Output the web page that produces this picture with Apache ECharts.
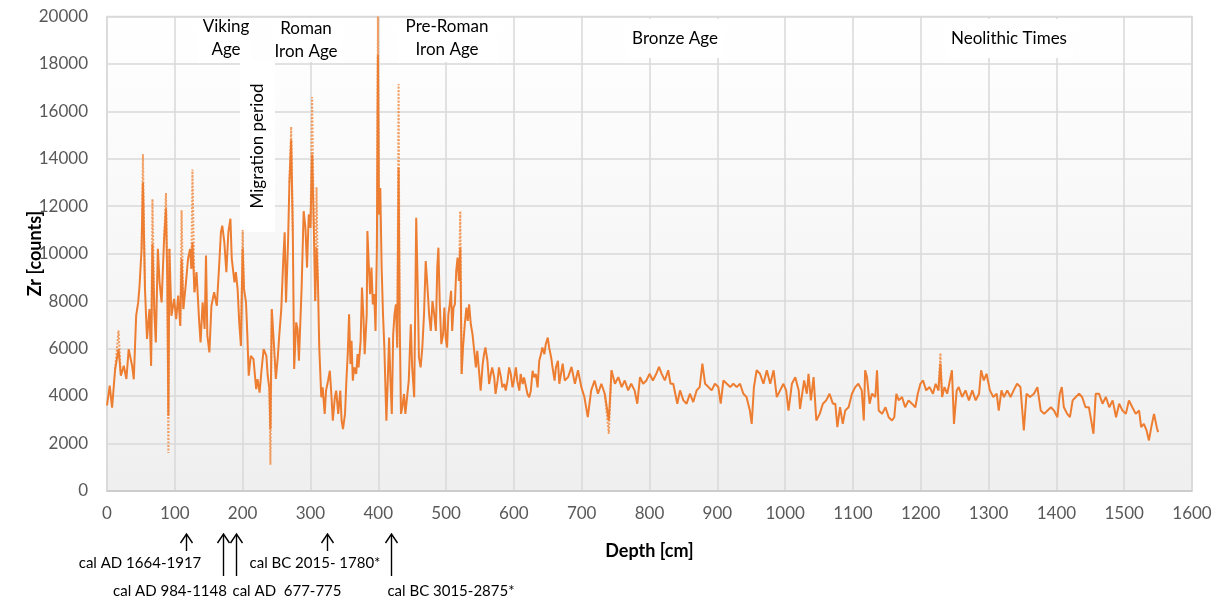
<!DOCTYPE html>
<html><head><meta charset="utf-8">
<script src="https://cdn.jsdelivr.net/npm/echarts@6/dist/echarts.min.js"></script>
<style>html,body{margin:0;padding:0;background:#fff}#c{width:1223px;height:606px}</style>
</head><body><div id="c"></div>
<script>
// Zr counts along the core, [depth cm, counts]
const zrTop = [[0,3600],[4,4430],[7.5,3500],[12,5130],[17,5970],[20.5,4850],[24.7,5270],[28.6,4710],[32,5970],[37,5270],[39.5,4700],[43,7380],[46,7940],[48,8650],[51,10200],[53,13000],[56,8510],[59,6400],[62.6,7660],[65,5270],[67,10400],[70,7380],[72,6250],[75,10200],[77.5,8790],[80.5,7940],[84,10480],[87,11900],[89,8790],[90.5,3160],[92,10200],[95,7380],[99,8090],[102,7240],[105,8230],[108,6960],[110,9780],[112.6,7660],[116,8650],[119.5,9780],[122.5,10200],[124.4,9360],[126,10480],[129,8370],[132,9220],[136,7100],[138,6250],[141,7940],[144,6820],[146,9920],[148,6540],[151,5830],[154,7800],[158,8370],[162,7800],[165.4,9500],[168,10900],[170,11180],[173,10480],[176,9220],[179,10900],[182,11470],[184,9780],[188,8790],[190,9220],[192.6,8510],[195,7100],[197.5,6110],[200,10200],[202,8510],[205,7940],[207,6540],[209,4850],[212,5690],[216,5550],[220,4280],[222,4710],[225,4140],[228,5130],[231,5970],[235,5690],[237,4850],[239.5,4280],[241,2600],[243,7660],[246,6250],[249,4710],[252,5690],[254,6540],[257,7660],[260,9780],[262,10900],[264,7940],[267,10480],[269,13000],[271.6,14800],[274,10900],[276,5130],[279,7100],[281,6820]];
const zrIron = [[283,5480],[287,8570],[290,11790],[292.6,11090],[295,9410],[297.5,11650],[300,11090],[302.5,14180],[305,11090],[307,8000],[309,10250],[311,8850],[313,6040],[316,3940],[318,4360],[321,3240],[323,4220],[326,4640],[328.6,5060],[330.5,4220],[333,2950],[336,3940],[338,4220],[341,3240],[344,4220],[346,2950],[348,2600],[351,3240],[353,4640],[355,5760],[357,7440],[359,5340],[360.6,6320],[362.5,4640],[364.5,5200],[367.5,4920],[369.5,5760],[371,5200],[374,6320],[376,8570],[378,7440],[380,5760],[383,7440],[384,10950],[386,9550],[388,8290],[390,9410],[392,7860],[394,8290],[396,6740],[398,10250],[399.5,18390],[401,11650],[403,12770],[405,9410],[407,7440],[409,6040],[411,3940],[412,2950],[414,4640],[416,6460],[418,4640],[420,3240],[422,6600],[424,7440],[426,7860],[428,6040],[430,13620],[431.5,7440],[433.5,3240],[435.5,3520],[438,4080],[440,3240],[443,4080],[445,4640],[448,7020],[450,5200],[453,3940],[455,8850],[456,11510],[458,8850],[460,5620],[462.5,5200],[465,6040],[467.5,7440],[470,9690],[472,8850],[475,7440],[477.5,6740],[480,8000],[482.5,7440],[485,6740],[487,9410],[488.7,10250],[490.6,8000],[493,6180],[495.6,6600],[497.5,7720],[499.5,6460],[501.5,6040],[503.4,7440],[505.4,7860],[507.4,8430],[509,6740],[511,7720],[513,7860],[515,9270],[517,9830],[519,8850],[521,10250],[523,4920],[525,6040],[527.6,7020],[530,7720],[532,7160],[534,7860],[536.5,7020],[539,6600],[541,6040],[544,5200],[546,5900],[549,4920],[551,4220],[554,5340],[556,5760],[558,6040],[561,5480],[563.5,4500],[566,4920],[568,5200],[571,4780],[573,4080],[576,4640],[578,5200],[581,4780],[583,4360],[586,4500],[588,4220],[590.6,4640],[593,5200],[595.5,4920],[598,4360],[600,4640],[603,5200],[605,4640],[608,4220],[610,4920],[613,4500],[615,4780],[618,4360],[620,4080],[622.6,3940],[625,4220],[627.6,5060],[630,4780],[632.5,4920],[635,4360],[637.4,5480],[640,5760],[642,6040],[645,5760],[647,6180],[650,6460],[652,6040],[655,5620],[657,5200],[660,4640],[662,5200],[665,5480]];
const zrBronze = [[667,4510],[672,5360],[675,4650],[680,4790],[685,5220],[690,4510],[694.6,5080],[699.5,4370],[704,3950],[709,3100],[714,4230],[719,4650],[724,4090],[729,4510],[734,4090],[740,2960],[744,5080],[749,4510],[754,4790],[759,4370],[763.5,4650],[768.5,4230],[773,4510],[778,4230],[782,3670],[786,4790],[790.6,4510],[795.5,4650],[800,4930],[805,4650],[810,4930],[814,5220],[818,4930],[822.6,4650],[827.6,5080],[831,4510],[835,4510],[841,3670],[845,4230],[850,3810],[854.7,3670],[859.6,4090],[864.5,3740],[869.5,4230],[874,4370],[878,5360],[882,4510],[887,4370],[891.6,4230],[896.5,4510],[901.5,4370],[905,3670],[909,4650],[914,4510],[919,4370],[923.6,4510],[928.6,4370],[933.5,4510],[938.4,4090],[943,3950],[948,3380],[950.7,2820],[954,4370],[958,5080],[963,4930],[968,4510],[973,5080],[978,4510],[983,5080],[987.7,3950],[992.6,4230],[997.5,4510],[1001.5,4230],[1005,3380],[1010,4510],[1015,4790],[1020,4230]];
const zrNeolithic = [[1022,3450],[1028,4650],[1032,4090],[1034.5,4930],[1038,3810],[1042,4790],[1046,2960],[1051,3240],[1055.7,3670],[1060.6,3810],[1065.5,4090],[1070.4,3670],[1074,3670],[1077,2680],[1081,3520],[1085,2820],[1088.6,3380],[1093.6,3520],[1098.5,4090],[1103.4,4370],[1108,4510],[1113,4230],[1116,2960],[1118,5080],[1120.7,4790],[1124.6,3670],[1128,4090],[1133,3950],[1135.5,5080],[1138,3380],[1143,3240],[1148,3520],[1152.7,3100],[1157.6,2960],[1161,3100],[1164,4090],[1167.5,3810],[1172.4,3950],[1177,3520],[1182,3810],[1187,3670],[1192,3520],[1195.6,4090],[1199.5,4510],[1203.4,4650],[1208,4230],[1213,4370],[1218,4090],[1222,4510],[1226,4230],[1229,5360],[1231.5,3950],[1235,4370],[1239,4090],[1243,4650],[1246,5080],[1249,2820],[1253,4230],[1256,4370],[1261,3950],[1266,4230],[1271,3810],[1276,4230],[1281,3810],[1286,4090],[1289,5080],[1293,4650],[1297,4930],[1302,4230],[1307,3950],[1312,4090],[1315,3380],[1319,4230],[1322.7,3950],[1327.6,4230],[1332.5,3950],[1337,4230],[1342,4510],[1347,4370],[1352,2540],[1356,4090],[1361,3950],[1367,4090],[1372,4370],[1377,3380],[1382,3240],[1387,3380],[1392,3520],[1396.5,3380],[1401.5,3100],[1405,4090],[1408,4370],[1411,3520],[1416,3240],[1420,3100],[1424,3810],[1428.6,3950],[1433.5,4090],[1438,3950],[1443,3520],[1448,3520],[1454.7,2400],[1458,4090],[1463,4090],[1468,3670],[1473,3950],[1478,3520],[1483,3810],[1488,3100],[1492.6,3670],[1497.5,3380],[1502.5,3240],[1507,3810],[1512,3520],[1517,3240],[1522,3380],[1525,2680],[1529,2820],[1533,2540],[1536.5,2120],[1540,2680],[1544,3240],[1548,2680],[1550,2470]];
// raw-data excursions (dotted), '-' separates the individual peaks
const zrRawPeaks = [[12,5130],[17,6750],[20.5,4850],[22,'-'],[51,10200],[53,14200],[56,8510],[60,'-'],[65,5270],[67,12300],[70,7380],[72,'-'],[84,10480],[87,12550],[89,8790],[90.5,1590],[92,10200],[93,'-'],[108,6960],[110,11830],[112.6,7660],[113,'-'],[124.4,9360],[126,13550],[129,8370],[130,'-'],[197.5,6110],[200,11000],[202,8510],[203,'-'],[239.5,4280],[241,1100],[243,7660],[244,'-'],[269,13000],[271.6,15350],[274,10900],[275,'-'],[300,11090],[302.5,16600],[305,11090],[306,'-'],[307,8000],[309,12800],[311,8850],[312,'-'],[398,10250],[399.5,20000],[401,11650],[402,'-'],[428,6040],[430,17150],[431.5,7440],[432,'-'],[519,8850],[521,11790],[523,4920],[524,'-'],[734,4090],[740,2400],[744,5080],[745,'-'],[1226,4230],[1229,5800],[1231.5,3950]];
// radiocarbon dates: depth of arrow, long shaft?, label
const dateDepthCm = [117, 171, 190, 324, 419];
const dateLongArrow = [false, true, true, false, true];
const dateLabels = ['cal AD 1664-1917', 'cal AD 984-1148', 'cal AD  677-775', 'cal BC 2015- 1780*', 'cal BC 3015-2875*'];
const periodNames = ['Viking\nAge', 'Roman\nIron Age', 'Migration period', 'Pre-Roman\nIron Age', 'Bronze Age', 'Neolithic Times'];

const FONT = 'Lato, "Noto Sans", sans-serif';
const chart = echarts.init(document.getElementById('c'), null, {renderer: 'canvas'});
const profile = zrTop.concat(zrIron, zrBronze, zrNeolithic);

chart.setOption({
  animation: false,
  backgroundColor: '#ffffff',
  grid: {
    left: 107, right: 31, top: 16.5, bottom: 115.3, show: true,
    borderColor: '#d9d9d9', borderWidth: 1.5,
    backgroundColor: {type: 'linear', x: 0, y: 0, x2: 0, y2: 1,
      colorStops: [{offset: 0, color: '#ffffff'}, {offset: 1, color: '#efefef'}]}
  },
  xAxis: {
    type: 'value', min: 0, max: 1600, interval: 100,
    name: 'Depth [cm]', nameLocation: 'middle', nameGap: 51, nameMoveOverlap: false,
    nameTextStyle: {fontFamily: FONT, fontSize: 18, fontWeight: 'bold', color: '#000'},
    axisLine: {show: true, lineStyle: {color: '#c8c8c8', width: 1.5}},
    axisTick: {show: false},
    axisLabel: {fontFamily: FONT, fontSize: 17, color: '#595959', margin: 14, formatter: v => String(v)},
    splitLine: {show: true, lineStyle: {color: '#d9d9d9', width: 1.5}}
  },
  yAxis: {
    type: 'value', min: 0, max: 20000, interval: 2000,
    name: 'Zr [counts]', nameLocation: 'middle', nameGap: 63, nameRotate: 90, nameMoveOverlap: false,
    nameTextStyle: {fontFamily: FONT, fontSize: 18, fontWeight: 'bold', color: '#000'},
    axisLine: {show: false}, axisTick: {show: false},
    axisLabel: {fontFamily: FONT, fontSize: 17, color: '#595959', margin: 19, formatter: v => String(v)},
    splitLine: {show: true, lineStyle: {color: '#d9d9d9', width: 1.5}}
  },
  series: [
    {type: 'line', name: 'raw', data: zrRawPeaks, showSymbol: false, connectNulls: false, z: 2,
     lineStyle: {color: 'rgba(240,135,60,0.8)', width: 2, type: [2, 1.5]}},
    {type: 'line', name: 'Zr', data: profile, showSymbol: false, z: 3,
     lineStyle: {color: '#ED7D31', width: 2}}
  ]
});

const gfx = [];
const boxes = [[198,18,54,44],[272,18,70,44],[240,60,35,172],[398,18,100,44],[625,19,98,39],[945,19,128,39]];
const labelPos = [[226,38.5],[306,40.5],[258,146],[447,38],[675,39],[1009,39]];
boxes.forEach(b => gfx.push({type: 'rect', z: 1, shape: {x: b[0], y: b[1], width: b[2], height: b[3]}, style: {fill: '#ffffff'}}));
periodNames.forEach((t, i) => {
  const el = {type: 'text', z: 5, x: labelPos[i][0], y: labelPos[i][1],
    style: {text: t, fontFamily: FONT, fontSize: 17, fill: '#000', align: 'center', verticalAlign: 'middle', lineHeight: 23}};
  if (t === 'Migration period') el.rotation = Math.PI / 2;
  gfx.push(el);
});
const tipY = 534;
dateDepthCm.forEach((d, i) => {
  const x = Math.round(chart.convertToPixel({xAxisIndex: 0}, d)) + 0.5;
  const bottom = dateLongArrow[i] ? 576 : 551;
  gfx.push({type: 'polyline', z: 5, shape: {points: [[x, tipY + 1], [x, bottom]]}, style: {stroke: '#000', lineWidth: 1.4, fill: null}});
  gfx.push({type: 'polyline', z: 5, shape: {points: [[x - 6, tipY + 9], [x, tipY], [x + 6, tipY + 9]]}, style: {stroke: '#000', lineWidth: 1.4, fill: null}});
});
const datePos = [[140,563],[170,591],[287,591],[315,563],[451,591]];
dateLabels.forEach((t, i) => gfx.push({type: 'text', z: 5, x: datePos[i][0], y: datePos[i][1],
  style: {text: t, fontFamily: FONT, fontSize: 15, fill: '#000', align: 'center', verticalAlign: 'middle'}}));
chart.setOption({graphic: gfx});
</script>
</body></html>
